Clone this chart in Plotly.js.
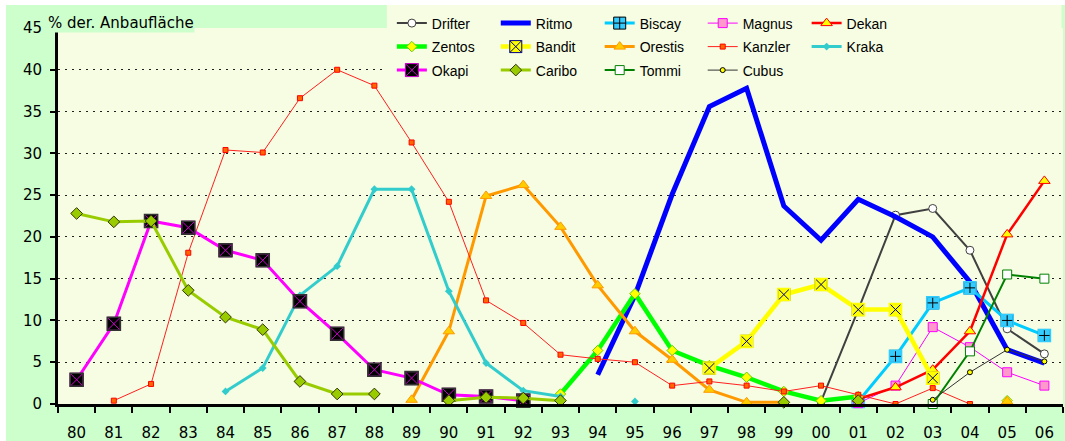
<!DOCTYPE html>
<html>
<head>
<meta charset="utf-8">
<script src="https://cdn.plot.ly/plotly-3.0.1.min.js"></script>
<style>
html,body{margin:0;padding:0;background:#ffffff;}
#chart{position:absolute;left:6px;top:5px;width:1059px;height:436px;}
</style>
</head>
<body>
<div id="chart"></div>
<script>
// Years 1980 .. 2006
const years = ['80','81','82','83','84','85','86','87','88','89','90','91','92','93','94','95','96','97','98','99','00','01','02','03','04','05','06'];
const _ = null;
//                 80   81   82   83   84   85   86   87   88   89   90   91   92   93   94   95   96   97   98   99   00   01   02   03   04   05   06
const drifter = [  _,   _,   _,   _,   _,   _,   _,   _,   _,   _,   _,   _,   _,   _,   _,   _,   _,   _,   _,   _, 0.3,11.3,22.6,23.4,18.4, 9.0, 6.0];
const ritmo   = [  _,   _,   _,   _,   _,   _,   _,   _,   _,   _,   _,   _,   _,   _, 3.5,13.0,25.1,35.6,37.8,23.7,19.6,24.5,22.4,20.0,14.6, 6.5, 4.9];
const biscay  = [  _,   _,   _,   _,   _,   _,   _,   _,   _,   _,   _,   _,   _,   _,   _,   _,   _,   _,   _,   _,   _, 0.3, 5.7,12.1,13.9,10.0, 8.2];
const magnus  = [  _,   _,   _,   _,   _,   _,   _,   _,   _,   _,   _,   _,   _,   _,   _,   _,   _,   _,   _,   _,   _, 0.1, 2.2, 9.2, 6.8, 3.8, 2.2];
const dekan   = [  _,   _,   _,   _,   _,   _,   _,   _,   _,   _,   _,   _,   _,   _,   _,   _,   _,   _,   _,   _,   _, 0.6, 2.0, 4.1, 8.7,20.3,26.7];
const zentos  = [  _,   _,   _,   _,   _,   _,   _,   _,   _,   _,   _,   _,   _, 1.2, 6.4,13.2, 6.4, 4.6, 3.2, 1.5, 0.4, 0.9,   _,   _,   _, 0.4,   _];
const bandit  = [  _,   _,   _,   _,   _,   _,   _,   _,   _,   _,   _,   _,   _,   _,   _,   _,   _, 4.3, 7.5,13.1,14.3,11.3,11.3, 3.1,   _,   _,   _];
const orestis = [  _,   _,   _,   _,   _,   _,   _,   _,   _, 0.5, 8.7,24.9,26.2,21.2,14.2, 8.7, 5.3, 1.7, 0.2, 0.2,   _,   _,   _,   _,   _, 0.3,   _];
const kanzler = [  _, 0.4, 2.4,18.1,30.4,30.1,36.6,40.0,38.1,31.3,24.2,12.4, 9.7, 5.9, 5.4, 5.0, 2.2, 2.7, 2.2, 1.5, 2.2, 1.1, 0.0, 1.9, 0.0,   _,   _];
const kraka   = [  _,   _,   _,   _, 1.5, 4.3,13.0,16.5,25.7,25.7,13.5, 4.9, 1.6, 0.9,   _, 0.3,   _,   _,   _,   _,   _,   _,   _,   _,   _,   _,   _];
const okapi   = [2.9, 9.6,21.9,21.1,18.4,17.2,12.3, 8.4, 4.1, 3.1, 1.1, 0.9, 0.4,   _,   _,   _,   _,   _,   _,   _,   _,   _,   _,   _,   _,   _,   _];
const caribo  = [22.8,21.8,21.9,13.6,10.4, 8.9, 2.7, 1.2, 1.2,  _, 0.4, 0.8, 0.7, 0.4,   _,   _,   _,   _,   _, 0.2,   _, 0.4,   _,   _,   _,   _,   _];
const tommi   = [  _,   _,   _,   _,   _,   _,   _,   _,   _,   _,   _,   _,   _,   _,   _,   _,   _,   _,   _,   _,   _,   _,   _, 0.0, 6.3,15.5,15.0];
const cubus   = [  _,   _,   _,   _,   _,   _,   _,   _,   _,   _,   _,   _,   _,   _,   _,   _,   _,   _,   _,   _,   _,   _,   _, 0.5, 3.8, 6.5, 5.1];

const yTicks = [0,5,10,15,20,25,30,35,40,45];

function tr(name, y, legend, line, marker){
  const t = {type:'scatter', mode: marker ? 'lines+markers' : 'lines', name:name, x:years, y:y,
    legend:legend, legendgroup:name, line:line, cliponaxis:false, hoverinfo:'x+y+name'};
  if (marker) t.marker = marker;
  return t;
}
// marker-only overlay that repaints the outline of a composite symbol
function rim(name, y, color, size){
  return {type:'scatter', mode:'markers', name:name, x:years, y:y, showlegend:false,
    legendgroup:name, cliponaxis:false, hoverinfo:'skip',
    marker:{symbol:'square-open', size:size, color:color, line:{color:color, width:1.6}}};
}

const data = [
  tr('Drifter', drifter, 'legend',  {color:'#404040', width:2}, {symbol:'circle', size:8, color:'#ffffff', line:{color:'#404040', width:1}}),
  tr('Ritmo',   ritmo,   'legend2', {color:'#0000ff', width:5}, null),
  tr('Biscay',  biscay,  'legend3', {color:'#00ccff', width:3}, {symbol:'square-cross', size:12, color:'#33ccff', line:{color:'#000000', width:1}}),
  rim('Biscay', biscay, '#33ccff', 12),
  tr('Magnus',  magnus,  'legend4', {color:'#ff00ff', width:1}, {symbol:'square', size:9, color:'#ff99cc', line:{color:'#ff00ff', width:1}}),
  tr('Dekan',   dekan,   'legend5', {color:'#ff0000', width:2.5}, {symbol:'triangle-up', size:10, color:'#ffff00', line:{color:'#ff0000', width:1}}),
  tr('Zentos',  zentos,  'legend',  {color:'#00ff00', width:4.5}, {symbol:'diamond', size:8, color:'#ffff00', line:{color:'#66cc00', width:1}}),
  tr('Bandit',  bandit,  'legend2', {color:'#ffff00', width:4.5}, {symbol:'square-x', size:12, color:'#ffff00', line:{color:'#000080', width:1}}),
  rim('Bandit', bandit, '#ffff00', 12),
  tr('Orestis', orestis, 'legend3', {color:'#ff9900', width:3}, {symbol:'triangle-up', size:10, color:'#ffcc00', line:{color:'#ff9900', width:1}}),
  tr('Kanzler', kanzler, 'legend4', {color:'#ff2020', width:1}, {symbol:'square', size:5, color:'#ff6600', line:{color:'#ff0000', width:1}}),
  tr('Kraka',   kraka,   'legend5', {color:'#33cccc', width:3}, {symbol:'diamond', size:6, color:'#33cccc', line:{color:'#33cccc', width:0}}),
  tr('Okapi',   okapi,   'legend',  {color:'#ff00ff', width:3}, {symbol:'square-x', size:13, color:'#000000', line:{color:'#cc00cc', width:1}}),
  rim('Okapi', okapi, '#333333', 13),
  tr('Caribo',  caribo,  'legend2', {color:'#99cc00', width:3}, {symbol:'diamond', size:9, color:'#99cc00', line:{color:'#333300', width:1}}),
  tr('Tommi',   tommi,   'legend3', {color:'#008000', width:2}, {symbol:'square', size:9, color:'#ffffff', line:{color:'#008000', width:1}}),
  tr('Cubus',   cubus,   'legend4', {color:'#333333', width:1}, {symbol:'circle', size:5, color:'#ffff00', line:{color:'#000000', width:1}})
];

const legFont = {family:'Arial, "Liberation Sans", sans-serif', size:14, color:'#000000'};
function leg(x){
  return {x:x, y:1.0545, xanchor:'left', yanchor:'top', orientation:'v', bgcolor:'rgba(0,0,0,0)',
    borderwidth:0, font:legFont, tracegroupgap:2.3, itemclick:false, itemdoubleclick:false};
}

const layout = {
  width:1059, height:436,
  margin:{l:52, r:1.5, t:23, b:36.5, pad:0, autoexpand:false},
  paper_bgcolor:'#ccffcc',
  plot_bgcolor:'#f6fde2',
  showlegend:true,
  legend: leg(0.3322),
  legend2: leg(0.4356),
  legend3: leg(0.5390),
  legend4: leg(0.6415),
  legend5: leg(0.7449),
  xaxis:{
    type:'category', categoryorder:'array', categoryarray:years,
    range:[-0.5, 26.5], autorange:false,
    showline:true, linecolor:'#000000', linewidth:3,
    ticks:'outside', tickson:'boundaries', ticklen:6, tickwidth:2, tickcolor:'#000000',
    showgrid:false, zeroline:false,
    tickfont:{family:'"DejaVu Sans", sans-serif', size:15, color:'#000000'},
    ticklabelstandoff:13, fixedrange:true
  },
  yaxis:{
    range:[0,45], autorange:false,
    tickmode:'array', tickvals:yTicks, ticktext:yTicks.map(String),
    showline:true, linecolor:'#000000', linewidth:3,
    ticks:'outside', ticklen:5, tickwidth:2, tickcolor:'#000000',
    showgrid:true, gridcolor:'#202020', gridwidth:1, griddash:'2px,5px',
    zeroline:false,
    tickfont:{family:'"DejaVu Sans", sans-serif', size:15, color:'#000000'},
    ticklabelstandoff:5, fixedrange:true
  },
  shapes:[
    {type:'rect', xref:'paper', yref:'paper', x0:0.3272, x1:0.9985, y0:0.8486, y1:1.0611,
     fillcolor:'#f6fde2', line:{width:0}, layer:'above'}
  ],
  annotations:[
    {text:'% der. Anbaufläche', xref:'paper', yref:'paper', x:-0.0109, y:1.012,
     xanchor:'left', yanchor:'middle', showarrow:false, bgcolor:'#ccffcc', borderpad:0,
     font:{family:'"DejaVu Sans", sans-serif', size:15, color:'#000000'}}
  ]
};

Plotly.newPlot('chart', data, layout, {displayModeBar:false, staticPlot:true});
</script>
</body>
</html>
